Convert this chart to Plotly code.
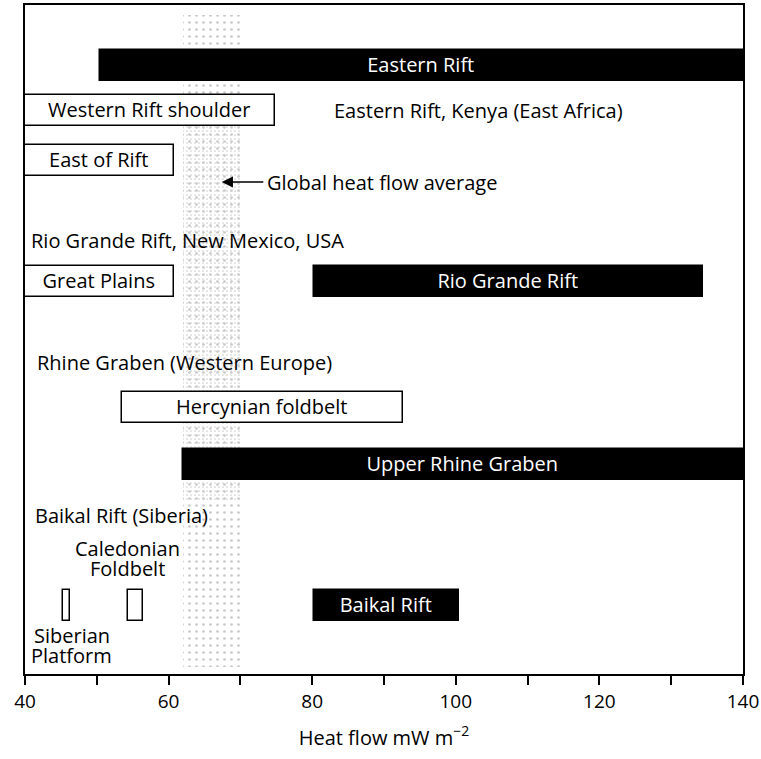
import plotly.graph_objects as go

# ---- data (heat flow ranges, mW m^-2) ----
bar_names = ["Eastern Rift", "Western Rift shoulder", "East of Rift", "Great Plains",
             "Rio Grande Rift", "Hercynian foldbelt", "Upper Rhine Graben",
             "", "", "Baikal Rift"]
bar_start = [50.5, 40, 40, 40, 80.3, 53.5, 62, 45.3, 54.3, 80.2]
bar_end = [140, 74.8, 60.8, 60.8, 134.4, 92.6, 140, 46.3, 56.4, 100.4]
bar_fill = ["black", "white", "white", "white", "black", "white", "black", "white", "white", "black"]
# vertical row position of each bar (top = 0)
bar_row = [60, 105, 155, 276, 276, 402, 459, 600, 600, 600]

# global heat flow range (stippled band)
global_range = [62, 70]

# free text labels: text, x, row, anchor
label_text = ["Eastern Rift, Kenya (East Africa)", "Rio Grande Rift, New Mexico, USA",
              "Rhine Graben (Western Europe)", "Baikal Rift (Siberia)",
              "Caledonian", "Foldbelt", "Siberian", "Platform"]
label_x = [82.8, 40.6, 41.4, 41.1, 54.3, 54.3, 46.5, 46.5]
label_row = [105, 235, 357, 510, 543, 563, 630, 650]
label_anchor = ["left", "left", "left", "left", "center", "center", "center", "center"]

# arrow: global average
arrow_head = 67.4
arrow_tail = 73.4
arrow_row = 177
arrow_text = "Global heat flow average"

x_ticks = [40, 60, 80, 100, 120, 140]
x_title = "Heat flow mW m<sup>\u22122</sup>"

FONT = "Open Sans"
TXT = 20

fig = go.Figure()

# stippled band for the global heat flow distribution
fig.add_trace(go.Bar(
    orientation="h", y=[336], base=[global_range[0]],
    x=[global_range[1] - global_range[0]], width=[652],
    marker=dict(color="rgba(0,0,0,0)", line=dict(width=0),
                pattern=dict(shape=".", fgcolor="#c8c8c8", bgcolor="rgba(0,0,0,0)",
                             size=7, solidity=0.12, fillmode="replace")),
    hoverinfo="skip", showlegend=False))
fig.add_trace(go.Bar(
    orientation="h", y=[292], base=[global_range[0]],
    x=[global_range[1] - global_range[0]], width=[410],
    marker=dict(color="rgba(0,0,0,0)", line=dict(width=0),
                pattern=dict(shape=".", fgcolor="#d0d0d0", bgcolor="rgba(0,0,0,0)",
                             size=4, solidity=0.15, fillmode="replace")),
    hoverinfo="skip", showlegend=False))

for name, s, e, f, r in zip(bar_names, bar_start, bar_end, bar_fill, bar_row):
    kw = {}
    if name:
        kw = dict(text=[name], textposition="inside", insidetextanchor="middle",
                  constraintext="none",
                  textfont=dict(family=FONT, size=TXT,
                                color="white" if f == "black" else "black"))
    fig.add_trace(go.Bar(
        orientation="h", y=[r], base=[s], x=[e - s], width=[31],
        marker=dict(color=f, line=dict(color="black", width=1.5)),
        hoverinfo="skip", showlegend=False, cliponaxis=True, **kw))

for t, x, r, a in zip(label_text, label_x, label_row, label_anchor):
    fig.add_annotation(x=x, y=r, text=t, showarrow=False, xanchor=a, yanchor="middle",
                       align="center", font=dict(family=FONT, size=TXT, color="black"))

fig.add_annotation(x=arrow_head, y=arrow_row, ax=arrow_tail, ay=arrow_row,
                   axref="x", ayref="y", text="", showarrow=True,
                   arrowhead=2, arrowsize=1.4, arrowwidth=1.6, arrowcolor="black")
fig.add_annotation(x=arrow_tail, y=arrow_row, text=arrow_text, showarrow=False,
                   xanchor="left", yanchor="middle",
                   font=dict(family=FONT, size=TXT, color="black"))

fig.update_layout(
    width=761, height=759,
    margin=dict(l=25, r=18, t=5, b=85, autoexpand=False),
    plot_bgcolor="white", paper_bgcolor="white",
    barmode="overlay", bargap=0,
    font=dict(family=FONT, size=TXT, color="black"),
)
fig.update_xaxes(
    range=[40, 140], tickvals=x_ticks, ticks="outside", ticklen=9, tickwidth=1.5,
    tickcolor="black", showgrid=False, zeroline=False, automargin=False,
    showline=True, linecolor="black", linewidth=1.5, mirror=True,
    minor=dict(dtick=10, tick0=40, ticks="outside", ticklen=9, tickwidth=1.5, tickcolor="black"),
    tickfont=dict(family=FONT, size=19),
    title=dict(text=x_title, font=dict(family=FONT, size=20), standoff=18),
)
fig.update_yaxes(
    range=[669, 0], showticklabels=False, ticks="", showgrid=False, zeroline=False,
    automargin=False,
    showline=True, linecolor="black", linewidth=1.5, mirror=True,
)

fig.write_html("out.html", config={"displayModeBar": False},
               post_script="document.body.style.margin='0';document.body.style.overflow='hidden';")
